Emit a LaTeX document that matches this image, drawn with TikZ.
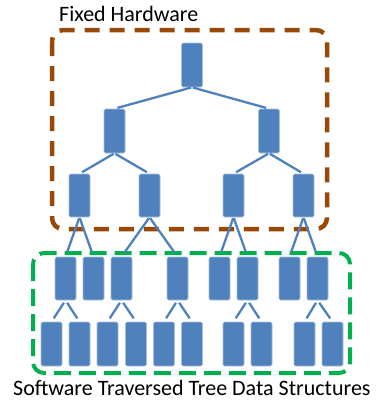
\documentclass[tikz,border=0pt]{standalone}
\usepackage{fontspec}
\setmainfont{Carlito}
\definecolor{nodeblue}{HTML}{4F81BD}
\definecolor{nodeedge}{HTML}{A7BFDE}
\definecolor{hwbrown}{HTML}{984807}
\definecolor{swgreen}{HTML}{00B050}
\begin{document}
\begin{tikzpicture}[x=1pt,y=-1pt,
  tn/.style={rectangle,fill=nodeblue,draw=nodeedge,line width=0.6pt,rounded corners=1.5pt,
    minimum width=21pt,minimum height=44pt,inner sep=0pt},
  tedge/.style={draw=nodeblue,line width=2.3pt,shorten <=1pt,shorten >=3pt},
  hwbox/.style={draw=hwbrown,line width=4.5pt,dash pattern=on 15pt off 10pt,rounded corners=11pt},
  swbox/.style={draw=swgreen,line width=4pt,dash pattern=on 17pt off 8pt,rounded corners=11pt},
  lbl/.style={font=\fontsize{22}{26}\selectfont,inner sep=0pt,text depth=0pt}]
\useasboundingbox (0,0) rectangle (387,400);
% boxes
\draw[hwbox] (52,30) rectangle (327,229);
\draw[swbox] (33,253) rectangle (350,373);
% level 1
\node[tn] (r) at (192,65) {};
% level 2
\node[tn] (a) at (114.5,131) {};
\node[tn] (b) at (269,131) {};
% level 3
\node[tn,minimum height=43pt] (c1) at (79.5,195.5) {};
\node[tn,minimum height=43pt] (c2) at (149.5,195.5) {};
\node[tn,minimum height=43pt] (c3) at (233.5,195.5) {};
\node[tn,minimum height=43pt] (c4) at (303.5,195.5) {};
% level 4
\foreach \i/\x in {1/65.5,2/93.5,3/121.5,4/177.5,5/219.5,6/247.5,7/289.5,8/317.5}
  \node[tn,minimum height=43pt] (d\i) at (\x,278.5) {};
% level 5
\foreach \i/\x in {1/51.5,2/79.5,3/107.5,4/136,5/164,6/192,7/233.5,8/261.5,9/304.5,10/332.5}
  \node[tn] (e\i) at (\x,344) {};
% edges
\draw[tedge] (r.south) -- (a.north);
\draw[tedge] (r.south) -- (b.north);
\draw[tedge] (a.south) -- (c1.north);
\draw[tedge] (a.south) -- (c2.north);
\draw[tedge] (b.south) -- (c3.north);
\draw[tedge] (b.south) -- (c4.north);
\draw[tedge,shorten >=5pt] (c1.south) -- (d1.north);
\draw[tedge,shorten >=5pt] (c1.south) -- (d2.north);
\draw[tedge,shorten >=5pt] (c2.south) -- (d3.north);
\draw[tedge,shorten >=5pt] (c2.south) -- (d4.north);
\draw[tedge,shorten >=5pt] (c3.south) -- (d5.north);
\draw[tedge,shorten >=5pt] (c3.south) -- (d6.north);
\draw[tedge,shorten >=5pt] (c4.south) -- (d7.north);
\draw[tedge,shorten >=5pt] (c4.south) -- (d8.north);
\draw[tedge,shorten <=3pt,shorten >=4pt] (d1.south) -- (e1.north);
\draw[tedge,shorten <=3pt,shorten >=4pt] (d1.south) -- (e2.north);
\draw[tedge,shorten <=3pt,shorten >=4pt] (d3.south) -- (e3.north);
\draw[tedge,shorten <=3pt,shorten >=4pt] (d3.south) -- (e4.north);
\draw[tedge,shorten <=3pt,shorten >=4pt] (d4.south) -- (e5.north);
\draw[tedge,shorten <=3pt,shorten >=4pt] (d4.south) -- (e6.north);
\draw[tedge,shorten <=3pt,shorten >=4pt] (d6.south) -- (e7.north);
\draw[tedge,shorten <=3pt,shorten >=4pt] (d6.south) -- (e8.north);
\draw[tedge,shorten <=3pt,shorten >=4pt] (d8.south) -- (e9.north);
\draw[tedge,shorten <=3pt,shorten >=4pt] (d8.south) -- (e10.north);
% labels
\node[lbl,anchor=base west] (hw) at (59,21) {Fixed Hardware};
\node[lbl,anchor=base west] (sw) at (13,395.5) {Software Traversed Tree Data Structures};
\end{tikzpicture}
\end{document}
